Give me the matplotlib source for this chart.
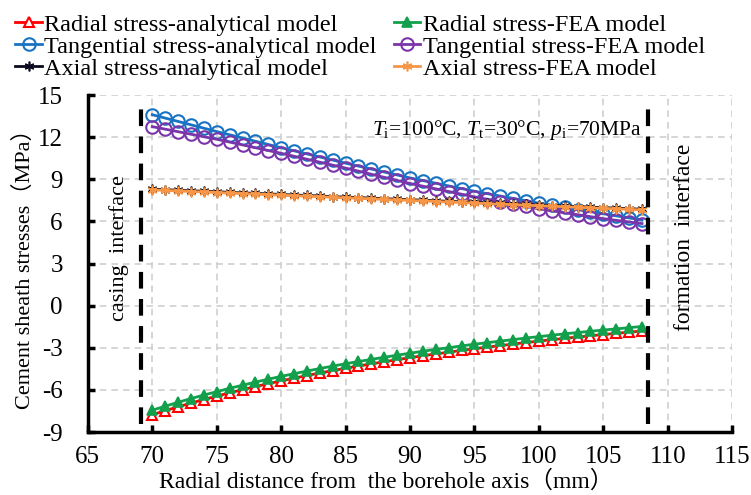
import numpy as np
import matplotlib
matplotlib.use("Agg")
import matplotlib.pyplot as plt

plt.rcParams['font.family'] = ['Liberation Serif', 'Noto Sans CJK SC']
plt.rcParams['mathtext.fontset'] = 'custom'
plt.rcParams['mathtext.rm'] = 'Liberation Serif'
plt.rcParams['mathtext.it'] = 'Liberation Serif:italic'
plt.rcParams['axes.unicode_minus'] = False

# radial distance (mm)
r = np.arange(70, 109)

radial_ana = [-7.76, -7.47, -7.20, -6.93, -6.68, -6.44, -6.20, -5.98, -5.76, -5.55,
              -5.35, -5.16, -4.97, -4.79, -4.62, -4.45, -4.29, -4.14, -3.99, -3.84,
              -3.70, -3.56, -3.43, -3.31, -3.18, -3.06, -2.95, -2.84, -2.73, -2.62,
              -2.52, -2.42, -2.32, -2.23, -2.14, -2.05, -1.97, -1.88, -1.80]
radial_fea = [-7.44, -7.15, -6.88, -6.61, -6.36, -6.12, -5.88, -5.66, -5.44, -5.23,
              -5.03, -4.84, -4.65, -4.47, -4.30, -4.13, -3.97, -3.82, -3.67, -3.52,
              -3.38, -3.24, -3.11, -2.99, -2.86, -2.74, -2.63, -2.52, -2.41, -2.30,
              -2.20, -2.10, -2.00, -1.91, -1.82, -1.73, -1.65, -1.56, -1.48]
tang_ana = [13.60, 13.36, 13.12, 12.88, 12.64, 12.40, 12.17, 11.94, 11.71, 11.48,
            11.25, 11.03, 10.81, 10.59, 10.37, 10.15, 9.94, 9.73, 9.52, 9.31,
            9.10, 8.91, 8.72, 8.53, 8.34, 8.15, 7.98, 7.81, 7.64, 7.47,
            7.30, 7.15, 7.00, 6.85, 6.70, 6.55, 6.40, 6.25, 6.10]
tang_fea = [12.75, 12.57, 12.39, 12.21, 12.03, 11.85, 11.65, 11.45, 11.25, 11.05,
            10.85, 10.64, 10.43, 10.22, 10.01, 9.80, 9.58, 9.36, 9.14, 8.92,
            8.70, 8.51, 8.32, 8.13, 7.94, 7.75, 7.58, 7.41, 7.24, 7.07,
            6.90, 6.76, 6.62, 6.48, 6.34, 6.20, 6.08, 5.96, 5.85]
axial_ana = [8.30, 8.26, 8.22, 8.18, 8.15, 8.11, 8.07, 8.03, 8.00, 7.96,
             7.92, 7.88, 7.85, 7.81, 7.77, 7.73, 7.70, 7.66, 7.62, 7.58,
             7.55, 7.51, 7.47, 7.43, 7.40, 7.36, 7.32, 7.28, 7.25, 7.21,
             7.17, 7.13, 7.10, 7.06, 7.02, 6.98, 6.95, 6.91, 6.87]
axial_fea = [8.25, 8.21, 8.17, 8.13, 8.10, 8.06, 8.02, 7.98, 7.95, 7.91,
             7.87, 7.83, 7.80, 7.76, 7.72, 7.68, 7.65, 7.61, 7.57, 7.53,
             7.50, 7.46, 7.42, 7.38, 7.35, 7.31, 7.27, 7.23, 7.20, 7.16,
             7.12, 7.08, 7.05, 7.01, 6.97, 6.93, 6.90, 6.86, 6.82]

casing_x = 69.1
formation_x = 108.45

fig = plt.figure(figsize=(7.51, 4.95), dpi=100)
ax = fig.add_axes([0.117, 0.127, 0.858, 0.681])

lw = 2.0
h1, = ax.plot(r, radial_ana, color='#FF0000', lw=lw, marker='^', ms=7, mfc='white', mew=1.5,
              label='Radial stress-analytical model')
h2, = ax.plot(r, radial_fea, color='#12A04C', lw=lw, marker='^', ms=7, mfc='#12A04C', mew=1.2,
              label='Radial stress-FEA model')
h3, = ax.plot(r, tang_ana, color='#1874C2', lw=lw, marker='o', ms=9, mfc='none', mew=1.5,
              label='Tangential stress-analytical model')
h4, = ax.plot(r, tang_fea, color='#7A35AA', lw=lw, marker='o', ms=9, mfc='none', mew=1.5,
              label='Tangential stress-FEA model')
h5, = ax.plot(r, axial_ana, color='#0A0A1E', lw=lw, marker=(6, 2, 0), ms=7, mew=1.2,
              label='Axial stress-analytical model')
h6, = ax.plot(r, axial_fea, color='#F79646', lw=lw, marker=(6, 2, 0), ms=7, mew=1.2,
              label='Axial stress-FEA model')

for xv in [casing_x, formation_x]:
    ax.plot([xv, xv], [-8.4, 14.6], color='black', lw=3, dashes=(4, 2.5), zorder=5)

ax.text(67.4, 4.1, 'casing  interface', rotation=90, ha='center', va='center', fontsize=16)
ax.text(111.3, 4.9, 'formation  interface', rotation=90, ha='center', va='center', fontsize=17)
ax.text(108.0, 12.5, r'$\mathit{T}_{\mathrm{i}}$=100°C, $\mathit{T}_{\mathrm{t}}$=30°C, $\mathit{p}_{\mathrm{i}}$=70MPa',
        ha='right', va='center', fontsize=15.5)

ax.set_xlim(65, 115)
ax.set_ylim(-9, 15)
ax.set_xticks(np.arange(65, 116, 5))
ax.set_yticks(np.arange(-9, 16, 3))
ax.tick_params(direction='in', length=5, width=2.5, labelsize=18)
ax.tick_params(axis='x', pad=10)
ax.tick_params(axis='y', pad=18)
ax.grid(True, color='#CFCFCF', lw=1.2, dashes=(4, 3))
for s in ['top', 'right']:
    ax.spines[s].set_visible(False)
for s in ['left', 'bottom']:
    ax.spines[s].set_linewidth(2.5)

ax.set_xlabel('Radial distance from  the borehole axis（mm）', fontsize=17)
ax.set_ylabel('Cement sheath stresses（MPa）', fontsize=16)
ax.xaxis.set_label_coords(0.463, -0.113)
ax.yaxis.set_label_coords(-0.082, 0.5)

fig.legend(handles=[h1, h3, h5, h2, h4, h6], ncol=2, frameon=False,
           prop={'family': ['Liberation Serif'], 'size': 17.5},
           loc='upper left', bbox_to_anchor=(0.004, 0.997), handlelength=1.1,
           handletextpad=0.1, columnspacing=0.7, labelspacing=0.0, borderaxespad=0.1)

fig.savefig('out.png', dpi=100)
